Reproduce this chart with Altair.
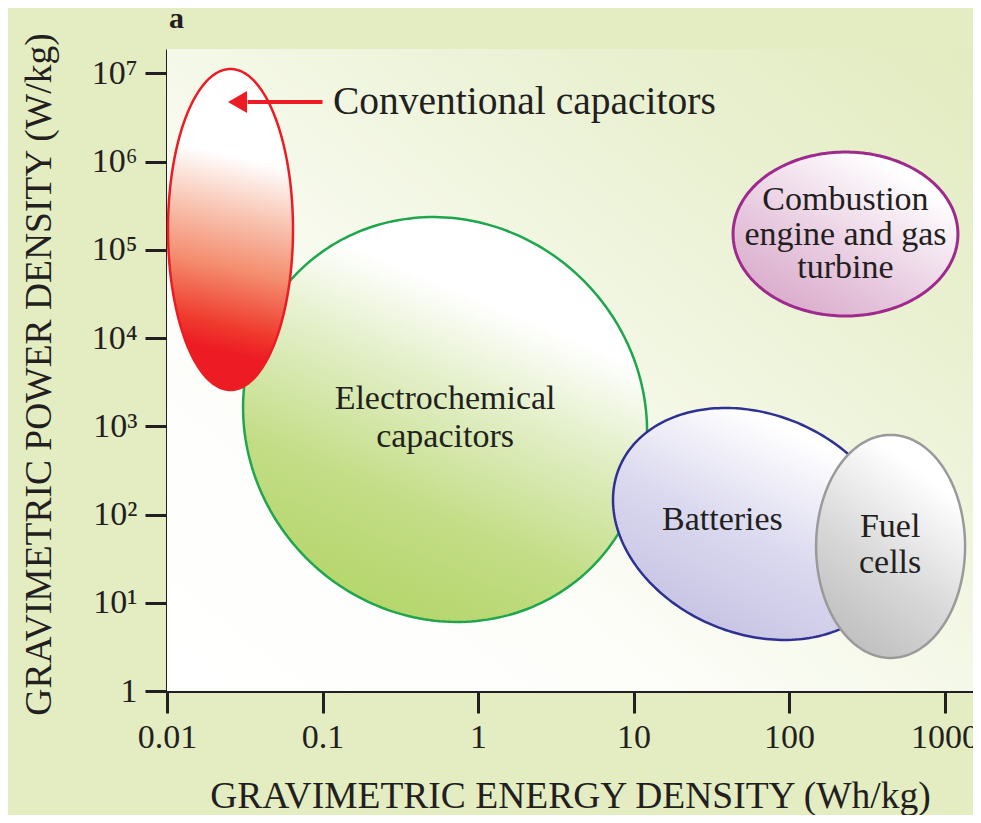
import json
import numpy as np
import pandas as pd
import altair as alt

# ---------------- axis data ----------------
x_ticks = [0.01, 0.1, 1, 10, 100, 1000]
x_tick_labels = ["0.01", "0.1", "1", "10", "100", "1000"]
y_ticks = [1, 1e1, 1e2, 1e3, 1e4, 1e5, 1e6, 1e7]
y_tick_labels = ["1", "10¹", "10²", "10³", "10⁴", "10⁵", "10⁶", "10⁷"]
x_domain = [0.01, 1524]
y_domain = [1, 1.888e7]

x_title = "GRAVIMETRIC ENERGY DENSITY (Wh/kg)"
y_title = "GRAVIMETRIC POWER DENSITY (W/kg)"
panel_label = "a"

# ---------------- regions (ellipses in log-log space) ----------------
region_names = ["Electrochemical capacitors", "Conventional capacitors",
                "Batteries", "Fuel cells", "Combustion engine and gas turbine"]
region_center_energy = [0.614, 0.0256, 60.4, 449.8, 230.7]      # Wh/kg
region_center_power = [1194, 1.70e5, 78.2, 43.5, 1.51e5]         # W/kg
region_half_width_dec = [1.299, 0.402, 0.913, 0.479, 0.723]      # decades
region_half_height_dec = [2.29, 1.819, 1.286, 1.264, 0.929]      # decades
region_skew_dec = [-0.136, 0.0, -0.272, 0.0, 0.0]                # decades

# ---------------- labels ----------------
label_text = ["Electrochemical", "capacitors", "Combustion", "engine and gas", "turbine",
              "Batteries", "Fuel", "cells"]
label_energy = [0.614, 0.614, 230.7, 230.7, 230.7, 37.3, 446.7, 446.7]
label_power = [1570, 582, 2.825e5, 1.132e5, 4.786e4, 66.8, 55.6, 21.7]

conv_text = ["Conventional capacitors"]
conv_energy = [0.1168]
conv_power = [4.73e6]
arrow_from_energy = [0.1]
arrow_to_energy = [0.0330]
arrow_head_energy = [0.02841]
arrow_power = [4.73e6]

FONT = "Liberation Serif"
INK = "#231f20"

xscale = alt.Scale(type="log", domain=x_domain, nice=False, zero=False)
yscale = alt.Scale(type="log", domain=y_domain, nice=False, zero=False)

W, H = 806, 642

x_axis = alt.Axis(
    values=x_ticks,
    labelExpr=json.dumps(x_tick_labels) + "[round(log(datum.value)/LN10)+2]",
    title=x_title, grid=False,
    domainColor=INK, domainWidth=3, tickColor=INK, tickWidth=3, tickSize=22,
    labelFont=FONT, labelFontSize=34, labelColor=INK, labelPadding=7,
    labelFlush=False, labelOverlap=False, labelBaseline="top",
    titleFont=FONT, titleFontSize=37.5, titleFontWeight="normal", titleColor=INK,
    titleX=W / 2, titleY=116, titleAlign="center", titleBaseline="alphabetic",
)
y_axis = alt.Axis(
    values=y_ticks,
    labelExpr=json.dumps(y_tick_labels, ensure_ascii=False) + "[round(log(datum.value)/LN10)]",
    title=y_title, grid=False,
    domainColor=INK, domainWidth=3, tickColor=INK, tickWidth=3, tickSize=22,
    labelFont=FONT, labelFontSize=34, labelColor=INK, labelPadding=8,
    labelFlush=False, labelOverlap=False, labelAlign="right", labelBaseline="middle",
    titleFont=FONT, titleFontSize=37.5, titleFontWeight="normal", titleColor=INK,
    titleAngle=270, titleX=-117, titleY=H / 2 + 4, titleAlign="center",
    titleBaseline="alphabetic",
)


def X(field):
    return alt.X(field, type="quantitative", scale=xscale, axis=x_axis)


def Y(field):
    return alt.Y(field, type="quantitative", scale=yscale, axis=y_axis)


def grad(stops, x1, y1, x2, y2):
    return {"gradient": "linear", "x1": x1, "y1": y1, "x2": x2, "y2": y2,
            "stops": [{"offset": o, "color": c} for o, c in stops]}


# plot-area background gradient
bg = alt.Chart(pd.DataFrame({"k": [0]})).mark_rect(
    fill=grad([(0, "#ffffff"), (0.3, "#fdfefa"), (0.75, "#eaf1d2"), (1, "#e3ebc0")], 0, 1, 1, 0),
    strokeWidth=0,
).encode(x=alt.value(0), x2=alt.value(W), y=alt.value(0), y2=alt.value(H))

styles = {
    "Electrochemical capacitors": dict(
        stroke="#1ea64d", strokeWidth=2.5,
        fill=grad([(0, "#b3d568"), (0.3, "#c3dd86"), (0.6, "#e3efc8"), (0.82, "#ffffff"), (1, "#ffffff")],
                  0.3, 1, 0.7, 0.05)),
    "Conventional capacitors": dict(
        stroke="#ed1c24", strokeWidth=2.5,
        fill=grad([(0, "#ffffff"), (0.27, "#ffffff"), (0.45, "#f8c4b1"), (0.62, "#f48d6e"),
                   (0.8, "#ef3b2e"), (0.88, "#ed1c24"), (1, "#ed1c24")], 0.545, 0, 0.455, 1)),
    "Batteries": dict(
        stroke="#2e3192", strokeWidth=2.5,
        fill=grad([(0, "#c2bfe1"), (0.45, "#dbd9ef"), (0.85, "#ffffff"), (1, "#ffffff")], 0.2, 1, 0.8, 0)),
    "Fuel cells": dict(
        stroke="#9a9a9a", strokeWidth=2.5,
        fill=grad([(0, "#bdbdbd"), (0.4, "#d8d8d8"), (0.85, "#ffffff"), (1, "#ffffff")], 0.25, 1, 0.75, 0)),
    "Combustion engine and gas turbine": dict(
        stroke="#9e2a8e", strokeWidth=3,
        fill=grad([(0, "#d6a3c6"), (0.4, "#e8cbe0"), (0.85, "#ffffff"), (1, "#ffffff")], 0.1, 1, 0.9, 0)),
}

t = np.linspace(0, 2 * np.pi, 241)
layers = [bg]
for k, name in enumerate(region_names):
    lx = np.log10(region_center_energy[k]) + region_half_width_dec[k] * np.cos(t)
    ly = (np.log10(region_center_power[k]) + region_half_height_dec[k] * np.sin(t)
          + region_skew_dec[k] * np.cos(t))
    df = pd.DataFrame({"energy": 10 ** lx, "power": 10 ** ly, "i": np.arange(len(t))})
    layers.append(
        alt.Chart(df).mark_line(**styles[name]).encode(x=X("energy"), y=Y("power"), order="i:Q")
    )

lab_df = pd.DataFrame({"text": label_text, "energy": label_energy, "power": label_power})
labels = alt.Chart(lab_df).mark_text(
    font=FONT, fontSize=34, color=INK, align="center", baseline="alphabetic"
).encode(x=X("energy"), y=Y("power"), text="text:N")

conv_df = pd.DataFrame({"text": conv_text, "energy": conv_energy, "power": conv_power})
conv = alt.Chart(conv_df).mark_text(
    font=FONT, fontSize=39.5, color=INK, align="left", baseline="middle"
).encode(x=X("energy"), y=Y("power"), text="text:N")

arrow_df = pd.DataFrame({"e1": arrow_from_energy, "e2": arrow_to_energy,
                         "eh": arrow_head_energy, "power": arrow_power})
arrow_line = alt.Chart(arrow_df).mark_rule(color="#ed1c24", strokeWidth=4).encode(
    x=X("e1"), x2="e2", y=Y("power"))
arrow_head = alt.Chart(arrow_df).mark_point(
    shape="triangle-left", filled=True, color="#ed1c24", size=484, opacity=1
).encode(x=X("eh"), y=Y("power"))

# panel letter "a" above the plot's top-left corner
panel = alt.Chart(pd.DataFrame({"text": [panel_label]})).mark_text(
    font=FONT, fontSize=30, fontWeight="bold", color=INK, align="left", baseline="alphabetic"
).encode(x=alt.value(2), y=alt.value(-21), text="text:N")

layers += [labels, conv, arrow_line, arrow_head, panel]

chart = alt.layer(*layers).properties(
    width=W, height=H,
    autosize=alt.AutoSizeParams(type="none"),
    padding={"left": 159, "top": 41, "right": 0, "bottom": 124},
).configure(background="#e4ecc2").configure_view(stroke=None)

chart.save("out.html", embed_options={"renderer": "svg", "actions": False})
